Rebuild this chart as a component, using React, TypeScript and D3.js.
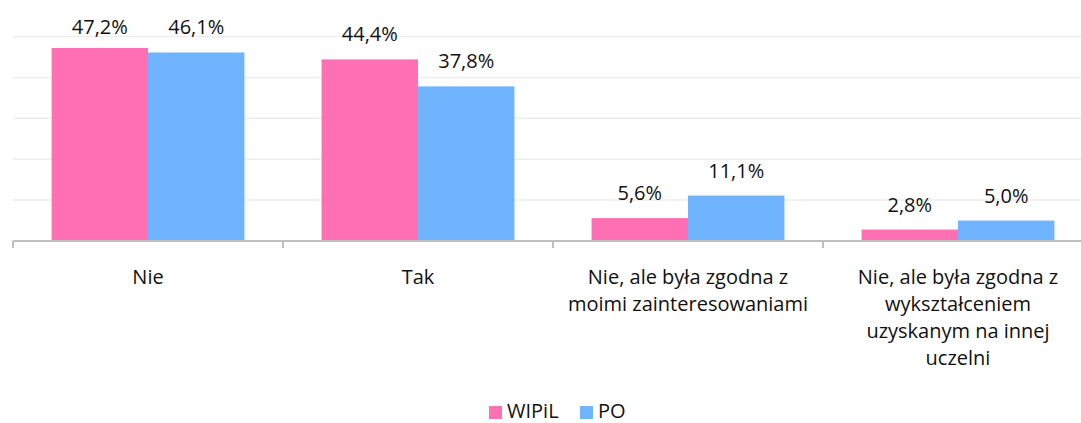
import React from 'react';
import { scaleBand, scaleLinear } from 'd3';

const categories = [
  ['Nie'],
  ['Tak'],
  ['Nie, ale była zgodna z', 'moimi zainteresowaniami'],
  ['Nie, ale była zgodna z', 'wykształceniem', 'uzyskanym na innej', 'uczelni'],
];
const seriesNames = ['WIPiL', 'PO'];
const wipil = [47.2, 44.4, 5.6, 2.8];
const po = [46.1, 37.8, 11.1, 5.0];
const gridTicks = [0, 10, 20, 30, 40, 50];

const colors = ['#FF6FB3', '#70B4FF'];
const font = '"Open Sans", Lato, sans-serif';

const W = 1081;
const H = 423;
const left = 13;
const bandW = 270;
const baseY = 241;

function App() {
  const x = scaleBand<number>()
    .domain(categories.map((_, i) => i))
    .range([left, left + bandW * categories.length])
    .paddingInner(0)
    .paddingOuter(0);
  const inner = scaleBand<number>()
    .domain([0, 1])
    .range([0, bandW])
    .paddingOuter(0.4)
    .paddingInner(0);
  const y = scaleLinear().domain([0, 50]).range([baseY, 36.5]);
  const series = [wipil, po];
  const fmt = (v: number) => v.toFixed(1).replace('.', ',') + '%';

  return (
    <svg width={W} height={H} style={{ position: 'absolute', left: 0, top: 0 }} fontFamily={font}>
      <rect width={W} height={H} fill="#fff" />
      {gridTicks.slice(1).map((t) => (
        <line key={t} x1={left} x2={W} y1={y(t)} y2={y(t)} stroke="#EDEDED" strokeWidth={1.5} />
      ))}
      {series.map((vals, si) =>
        vals.map((v, ci) => (
          <rect
            key={`${si}-${ci}`}
            x={(x(ci) ?? 0) + (inner(si) ?? 0)}
            y={y(v)}
            width={inner.bandwidth()}
            height={baseY - y(v)}
            fill={colors[si]}
          />
        ))
      )}
      {series.map((vals, si) =>
        vals.map((v, ci) => (
          <text
            key={`l${si}-${ci}`}
            x={(x(ci) ?? 0) + (inner(si) ?? 0) + inner.bandwidth() / 2}
            y={Math.max(y(v) - 18, 34)}
            textAnchor="middle"
            fontSize={20}
            fill="#111"
          >
            {fmt(v)}
          </text>
        ))
      )}
      <line x1={left} x2={W} y1={baseY} y2={baseY} stroke="#BFBFBF" strokeWidth={2} />
      {categories.map((_, i) => (
        <line key={`t${i}`} x1={x(i)} x2={x(i)} y1={baseY} y2={baseY + 7} stroke="#BFBFBF" strokeWidth={2} />
      ))}
      {categories.map((lines, i) => (
        <text key={`c${i}`} textAnchor="middle" fontSize={20} fill="#111">
          {lines.map((ln, k) => (
            <tspan key={k} x={(x(i) ?? 0) + bandW / 2} y={284 + k * 27}>
              {ln}
            </tspan>
          ))}
        </text>
      ))}
      <g>
        {seriesNames.map((n, i) => {
          const lx = i === 0 ? 489 : 580;
          return (
            <g key={n}>
              <rect x={lx} y={406} width={13} height={13} fill={colors[i]} />
              <text x={lx + 18} y={418} fontSize={20} fill="#111">
                {n}
              </text>
            </g>
          );
        })}
      </g>
    </svg>
  );
}

export default App;
